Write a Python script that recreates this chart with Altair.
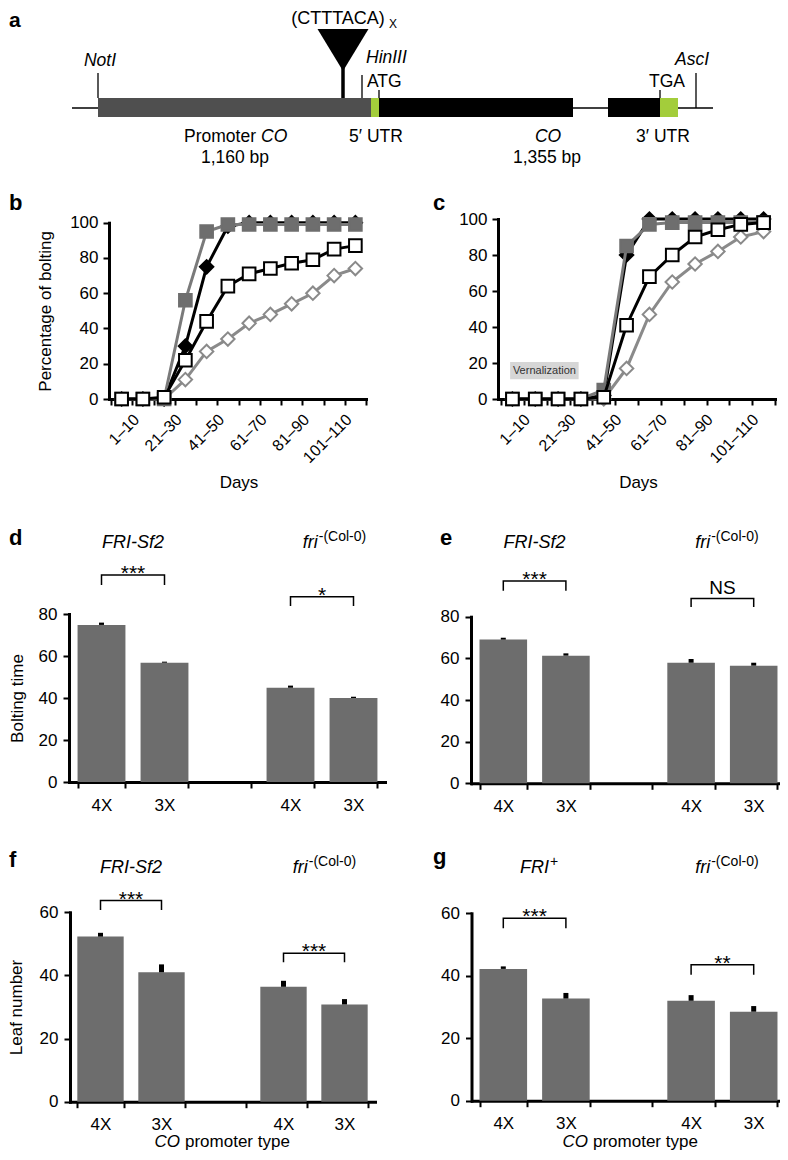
import json
import altair as alt
import pandas as pd

FONT = "Liberation Sans"
W, H = 772, 1144          # drawing area inside the 8 px page margin
MARGIN = 8


def P(v):
    """page pixel -> chart pixel"""
    return v - MARGIN


# ============================ data ============================
days = ["1–10", "11–20", "21–30", "31–40", "41–50", "51–60",
        "61–70", "71–80", "81–90", "91–100", "101–110", "111–120"]
days_shown = ["1–10", "21–30", "41–50", "61–70", "81–90", "101–110"]

# panel b (percentage of bolting, no vernalization)
b_white_dia = [0, 0, 0, 11, 27, 34, 43, 48, 54, 60, 70, 74]
b_black_dia = [0, 0, 0, 30, 75, 98, 100, 100, 100, 100, 100, 100]
b_grey_sq = [0, 0, 0, 56, 95, 99, 99, 99, 99, 99, 99, 99]
b_white_sq = [0, 0, 1, 22, 44, 64, 71, 74, 77, 79, 85, 87]

# panel c (percentage of bolting, after vernalization)
c_white_dia = [0, 0, 0, 0, 0, 17, 47, 65, 75, 82, 90, 93]
c_black_dia = [0, 0, 0, 0, 2, 80, 100, 100, 100, 100, 100, 100]
c_grey_sq = [0, 0, 0, 0, 5, 85, 97, 98, 98, 98, 98, 98]
c_white_sq = [0, 0, 0, 0, 1, 41, 68, 80, 90, 94, 97, 98]

vern_text = ["Vernalization"]
vern_days = [4, 34]
vern_pct = [11, 20.5]

# bar panels
bar_slots = ["A4X", "A3X", "gap", "B4X", "B3X"]
bar_keys = ["A4X", "A3X", "B4X", "B3X"]
pair_left = ["A4X", "B4X"]
pair_right = ["A3X", "B3X"]

d_vals = [74.8, 56.8, 44.9, 40.0]
d_err = [1.1, 0.5, 1.0, 0.6]
e_vals = [69.0, 61.3, 57.9, 56.5]
e_err = [0.9, 1.1, 1.8, 1.4]
f_vals = [52.3, 41.0, 36.4, 30.8]
f_err = [1.2, 2.5, 1.9, 1.7]
g_vals = [42.2, 32.7, 32.0, 28.5]
g_err = [0.8, 1.8, 1.8, 1.8]

d_sig = ["***", "*"]
e_sig = ["***", "NS"]
f_sig = ["***", "***"]
g_sig = ["***", "**"]

group_main_sf2 = ["FRI-Sf2", "fri"]
group_sup_sf2 = ["", "-(Col-0)"]
group_main_g = ["FRI", "fri"]
group_sup_g = ["+", "-(Col-0)"]

# gene construct (diagram units)
gene_flank = [72, 713]
gene_box_start = [98, 371, 379, 608, 660]
gene_box_end = [371, 379, 573, 660, 678]
gene_box_kind = ["promoter", "utr", "exon", "exon", "utr"]
site_pos = [98, 362, 379, 660, 696]
insert_pos = [343]

# ============================ styles ============================
BAR = "#6d6d6d"
AX = dict(domainColor="black", domainWidth=3, domainCap="square",
          tickColor="black", tickWidth=2, tickSize=6,
          labelColor="black", labelFont=FONT, labelFontSize=17,
          titleFont=FONT, titleFontSize=17, titleFontWeight="normal",
          titleColor="black", grid=False)

STY = {
    "white_dia": dict(line="#8a8a8a", shape="diamond", fill="white", stroke="#8a8a8a", size=180),
    "black_dia": dict(line="black", shape="diamond", fill="black", stroke="black", size=180),
    "grey_sq": dict(line="#7a7a7a", shape="square", fill="#6e6e6e", stroke="#6e6e6e", size=160),
    "white_sq": dict(line="black", shape="square", fill="white", stroke="black", size=160),
}
series_order = ["white_dia", "black_dia", "grey_sq", "white_sq"]

# Arial advance widths (em) for centring mixed-style headings
AW = {'f': .278, 'r': .333, 'i': .222, 'F': .611, 'R': .722, 'I': .278, '+': .584,
      '-': .333, '(': .333, ')': .333, 'C': .722, 'o': .556, 'l': .222, '0': .556}


def tw(s, size):
    return sum(AW.get(ch, .556) for ch in s) * size


page_x = alt.Scale(domain=[0, 788], range=[P(0), P(788)], nice=False, zero=False)
page_y = alt.Scale(domain=[0, 1160], range=[P(0), P(1160)], nice=False, zero=False)


def text_layers(rows, xs, ys):
    df = pd.DataFrame(rows, columns=["text", "x", "y", "align", "style", "weight", "fs"])
    out = []
    for (al, st, wt), sub in df.groupby(["align", "style", "weight"], sort=False):
        out.append(
            alt.Chart(sub).mark_text(align=al, baseline="alphabetic", font=FONT,
                                     fontStyle=st, fontWeight=wt, color="black")
            .encode(x=alt.X("x:Q", scale=xs, axis=None),
                    y=alt.Y("y:Q", scale=ys, axis=None),
                    text="text:N",
                    size=alt.Size("fs:Q", scale=None, legend=None)))
    return out


# ============================ panel a + page texts ============================
TS = 17.5
page_rows = [
    ("(CTTTACA)", 338, 24, "center", "normal", "normal", 18),
    ("X", 389, 28, "left", "normal", "normal", 12),
    ("NotI", 100, 66, "center", "italic", "normal", TS),
    ("HinIII", 366, 63, "left", "italic", "normal", TS),
    ("ATG", 367, 87, "left", "normal", "normal", TS),
    ("AscI", 675, 65, "left", "italic", "normal", TS),
    ("TGA", 649, 87, "left", "normal", "normal", TS),
    ("Promoter", 256, 142, "right", "normal", "normal", TS),
    ("CO", 261, 142, "left", "italic", "normal", TS),
    ("1,160 bp", 235, 163, "center", "normal", "normal", TS),
    ("5′ UTR", 376, 142, "center", "normal", "normal", TS),
    ("CO", 548, 142, "center", "italic", "normal", TS),
    ("1,355 bp", 547, 163, "center", "normal", "normal", TS),
    ("3′ UTR", 663, 142, "center", "normal", "normal", TS),
    ("a", 9, 27, "left", "normal", "bold", 21),
    ("b", 9, 210, "left", "normal", "bold", 22),
    ("c", 433, 210, "left", "normal", "bold", 22),
    ("d", 9, 545, "left", "normal", "bold", 22),
    ("e", 440, 545, "left", "normal", "bold", 22),
    ("f", 9, 867, "left", "normal", "bold", 22),
    ("g", 433, 864, "left", "normal", "bold", 22),
    ("CO", 180, 1147, "right", "italic", "normal", 17),
    ("promoter type", 185, 1147, "left", "normal", "normal", 17),
    ("CO", 588, 1147, "right", "italic", "normal", 17),
    ("promoter type", 593, 1147, "left", "normal", "normal", 17),
]

PX = dict(scale=page_x, axis=None)
PY = dict(scale=page_y, axis=None)

backbone = alt.Chart(pd.DataFrame({"x0": [gene_flank[0]], "x1": [gene_flank[1]], "y": [108]})) \
    .mark_rule(color="black", strokeWidth=1.5) \
    .encode(x=alt.X("x0:Q", **PX), x2="x1:Q", y=alt.Y("y:Q", **PY))

sites = alt.Chart(pd.DataFrame({"x": site_pos, "top": [73, 75, 90, 90, 73],
                                "base": [98, 98, 98, 98, 108]})) \
    .mark_rule(color="black", strokeWidth=1.3) \
    .encode(x=alt.X("x:Q", **PX), y=alt.Y("top:Q", **PY), y2="base:Q")

stem = alt.Chart(pd.DataFrame({"x": insert_pos, "top": [66], "base": [98]})) \
    .mark_rule(color="black", strokeWidth=3.5) \
    .encode(x=alt.X("x:Q", **PX), y=alt.Y("top:Q", **PY), y2="base:Q")

boxes = alt.Chart(pd.DataFrame({"x0": gene_box_start, "x1": gene_box_end, "kind": gene_box_kind,
                                "y0": 98, "y1": 117})) \
    .mark_rect() \
    .encode(x=alt.X("x0:Q", **PX), x2="x1:Q", y=alt.Y("y0:Q", **PY), y2="y1:Q",
            color=alt.Color("kind:N", legend=None,
                            scale=alt.Scale(domain=["promoter", "utr", "exon"],
                                            range=["#4f4f4f", "#a3cd3b", "#000000"])))

triangle = alt.Chart(pd.DataFrame({"x": insert_pos, "y": [50]})) \
    .mark_point(shape="M -1 -0.82 L 1 -0.82 L 0 0.82 Z", filled=True, color="black",
                size=2601, opacity=1, strokeWidth=0) \
    .encode(x=alt.X("x:Q", **PX), y=alt.Y("y:Q", **PY))

page_layers = [backbone, sites, stem, boxes, triangle] + text_layers(page_rows, page_x, page_y)


# ============================ line panels ============================
def line_panel(vals, g, ytitle):
    xs = alt.Scale(type="band", domain=days, range=[P(g["x0"]), P(g["x1"])],
                   paddingInner=0, paddingOuter=0)
    ys = alt.Scale(type="linear", domain=[0, 100], range=[P(g["y0"]), P(g["ytop"])],
                   nice=False, zero=False)
    shown = json.dumps(days_shown, ensure_ascii=False)
    xaxis = alt.Axis(**{**AX, "orient": "bottom", "offset": P(g["y0"]) - H,
                        "tickBand": "extent", "labelAngle": -45, "labelAlign": "right",
                        "labelBaseline": "top", "labelPadding": 6, "labelOffset": 9,
                        "labelFontSize": 16,
                        "labelExpr": f"indexof({shown}, datum.value) >= 0 ? datum.value : ''",
                        "title": "Days", "titlePadding": 9})
    yaxis = alt.Axis(**{**AX, "orient": "left", "offset": -P(g["yx"]),
                        "values": [0, 20, 40, 60, 80, 100], "labelPadding": 5,
                        "title": ytitle, "titlePadding": 15})
    layers = []
    first = True
    for name in series_order:
        s = STY[name]
        df = pd.DataFrame({"day": days, "idx": list(range(len(days))), "pct": vals[name]})
        if first:
            xe = alt.X("day:N", scale=xs, axis=xaxis)
            ye = alt.Y("pct:Q", scale=ys, axis=yaxis)
        else:
            xe = alt.X("day:N", scale=xs, axis=None)
            ye = alt.Y("pct:Q", scale=ys, axis=None)
        first = False
        layers.append(alt.Chart(df).mark_line(color=s["line"], strokeWidth=3)
                      .encode(x=xe, y=ye, order=alt.Order("idx:Q")))
        layers.append(alt.Chart(df).mark_point(shape=s["shape"], filled=True, fill=s["fill"],
                                               stroke=s["stroke"], strokeWidth=2, size=s["size"],
                                               opacity=1)
                      .encode(x=alt.X("day:N", scale=xs, axis=None),
                              y=alt.Y("pct:Q", scale=ys, axis=None)))
    return layers


panel_b = line_panel({"white_dia": b_white_dia, "black_dia": b_black_dia,
                      "grey_sq": b_grey_sq, "white_sq": b_white_sq},
                     dict(x0=111, x1=366, y0=399, ytop=222.7, yx=109),
                     "Percentage of bolting")
panel_c = line_panel({"white_dia": c_white_dia, "black_dia": c_black_dia,
                      "grey_sq": c_grey_sq, "white_sq": c_white_sq},
                     dict(x0=501, x1=775, y0=399, ytop=219, yx=498), "")

vx = alt.Scale(domain=[0, 120], range=[P(501), P(775)], nice=False, zero=False)
vy = alt.Scale(domain=[0, 100], range=[P(399), P(219)], nice=False, zero=False)
vdf = pd.DataFrame({"d0": [vern_days[0]], "d1": [vern_days[1]], "p0": [vern_pct[0]],
                    "p1": [vern_pct[1]], "dm": [sum(vern_days) / 2],
                    "pm": [sum(vern_pct) / 2], "t": vern_text})
vern = [
    alt.Chart(vdf).mark_rect(color="#d6d6d6").encode(
        x=alt.X("d0:Q", scale=vx, axis=None), x2="d1:Q",
        y=alt.Y("p0:Q", scale=vy, axis=None), y2="p1:Q"),
    alt.Chart(vdf).mark_text(font=FONT, fontSize=11, color="#333333", baseline="middle").encode(
        x=alt.X("dm:Q", scale=vx, axis=None), y=alt.Y("pm:Q", scale=vy, axis=None), text="t:N"),
]


# ============================ bar panels ============================
def bar_panel(vals, errs, sig, brk_hi, brk_lo, mains, sups, head, g, ytitle, ytp, shift):
    xs = alt.Scale(type="band", domain=bar_slots, range=[P(g["x0"]), P(g["x1"])],
                   paddingInner=0.24, paddingOuter=0.12)
    ys = alt.Scale(type="linear", domain=[0, g["ymax"]], range=[P(g["y0"]), P(g["ytop"])],
                   nice=False, zero=False)
    step = (g["x1"] - g["x0"]) / len(bar_slots)
    xaxis = alt.Axis(**{**AX, "orient": "bottom", "offset": P(g["y0"]) - H,
                        "tickBand": "extent", "labelPadding": 9, "labelAngle": 0,
                        "labelAlign": "center", "labelBaseline": "top", "title": "",
                        "labelExpr": "isString(datum.value) && datum.value != 'gap' "
                                     "? substring(datum.value, 1) : ''"})
    yaxis = alt.Axis(**{**AX, "orient": "left", "offset": -P(g["yx"]),
                        "values": list(range(0, g["ymax"] + 1, 20)), "labelPadding": 6,
                        "title": ytitle, "titlePadding": ytp})
    df = pd.DataFrame({"slot": bar_keys, "val": vals,
                       "top": [v + e for v, e in zip(vals, errs)]})
    X = dict(scale=xs, axis=None)
    Y = dict(scale=ys, axis=None)
    bars = alt.Chart(df).mark_bar(color=BAR).encode(
        x=alt.X("slot:N", scale=xs, axis=xaxis), y=alt.Y("val:Q", scale=ys, axis=yaxis))
    err = alt.Chart(df).mark_rule(color="black", strokeWidth=5).encode(
        x=alt.X("slot:N", **X), y=alt.Y("val:Q", **Y), y2="top:Q")

    brk = []
    for i in range(len(pair_left)):
        pts = [(pair_left[i], brk_lo[i]), (pair_left[i], brk_hi[i]),
               (pair_right[i], brk_hi[i]), (pair_right[i], brk_lo[i])]
        for s, (k, lv) in enumerate(pts):
            brk.append({"b": i, "seq": s, "slot": k, "lv": lv})
    brackets = alt.Chart(pd.DataFrame(brk)).mark_line(color="black", strokeWidth=1.5).encode(
        x=alt.X("slot:N", **X), y=alt.Y("lv:Q", **Y), detail="b:N", order="seq:Q")

    sdf = pd.DataFrame({"slot": pair_left, "lv": brk_hi, "t": sig})
    stars = alt.Chart(sdf).transform_filter("datum.t != 'NS'").mark_text(
        font=FONT, fontSize=21, dx=step / 2, dy=5, baseline="alphabetic", color="black").encode(
        x=alt.X("slot:N", **X), y=alt.Y("lv:Q", **Y), text="t:N")
    words = alt.Chart(sdf).transform_filter("datum.t == 'NS'").mark_text(
        font=FONT, fontSize=19, dx=step / 2, dy=-5, baseline="alphabetic", color="black").encode(
        x=alt.X("slot:N", **X), y=alt.Y("lv:Q", **Y), text="t:N")

    layers = [bars, err, brackets, stars, words]
    MS, SS = 18, 14
    for i in range(len(pair_left)):
        hdf = pd.DataFrame({"slot": [pair_left[i]], "lv": [head], "t": [mains[i]], "s": [sups[i]]})
        if sups[i]:
            total = tw(mains[i], MS) + tw(sups[i], SS)
            junction = step / 2 - total / 2 + tw(mains[i], MS) + 4 + (shift if i == 1 else 0)
            layers.append(alt.Chart(hdf).mark_text(
                font=FONT, fontSize=MS, fontStyle="italic", align="right", dx=junction,
                baseline="alphabetic", color="black").encode(
                x=alt.X("slot:N", **X), y=alt.Y("lv:Q", **Y), text="t:N"))
            layers.append(alt.Chart(hdf).mark_text(
                font=FONT, fontSize=SS, align="left", dx=junction + 1, dy=-7,
                baseline="alphabetic", color="black").encode(
                x=alt.X("slot:N", **X), y=alt.Y("lv:Q", **Y), text="s:N"))
        else:
            layers.append(alt.Chart(hdf).mark_text(
                font=FONT, fontSize=MS, fontStyle="italic", align="center", dx=step / 2,
                baseline="alphabetic", color="black").encode(
                x=alt.X("slot:N", **X), y=alt.Y("lv:Q", **Y), text="t:N"))
    return layers


panel_d = bar_panel(d_vals, d_err, d_sig, [98.6, 88.2], [93.8, 83.8],
                    group_main_sf2, group_sup_sf2, 111.4,
                    dict(x0=70, x1=385, y0=782, ytop=614, ymax=80, yx=69), "Bolting time", 12, 8)
panel_e = bar_panel(e_vals, e_err, e_sig, [97.1, 88.7], [92.5, 84.7],
                    group_main_sf2, group_sup_sf2, 113,
                    dict(x0=472, x1=785, y0=783.3, ytop=616.7, ymax=80, yx=471), "", 8, 0)
panel_f = bar_panel(f_vals, f_err, f_sig, [63.7, 47.0], [60.7, 44.2],
                    group_main_sf2, group_sup_sf2, 72.4,
                    dict(x0=70, x1=375, y0=1101.7, ytop=912.3, ymax=60, yx=70), "Leaf number", 14, 6)
panel_g = bar_panel(g_vals, g_err, g_sig, [58.4, 43.5], [55.2, 40.3],
                    group_main_g, group_sup_g, 72.9,
                    dict(x0=472, x1=785, y0=1100.7, ytop=913.3, ymax=60, yx=471.5), "", 8, 0)

all_layers = page_layers + panel_b + panel_c + vern + panel_d + panel_e + panel_f + panel_g

chart = alt.layer(*all_layers) \
    .resolve_scale(x="independent", y="independent") \
    .properties(width=W, height=H, padding=0, autosize=alt.AutoSizeParams(type="none")) \
    .configure_view(strokeWidth=0)

chart.save("out.html", embed_options={"renderer": "svg", "actions": False})
